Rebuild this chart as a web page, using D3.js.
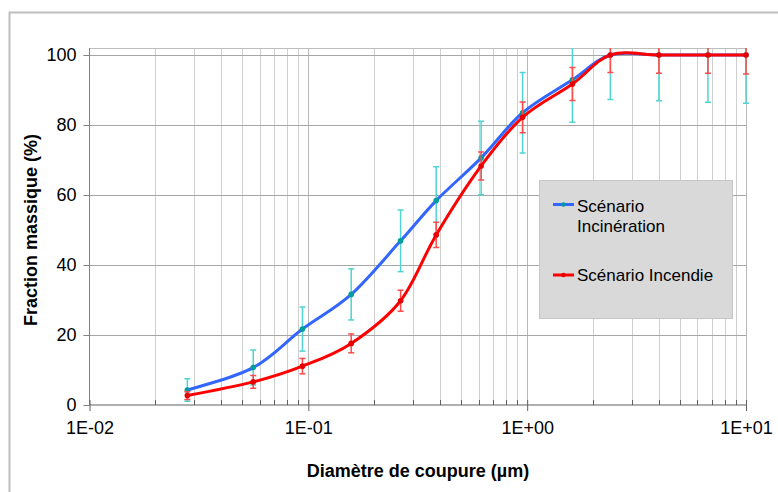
<!DOCTYPE html>
<html>
<head>
<meta charset="utf-8">
<script src="https://cdn.jsdelivr.net/npm/d3@7"></script>
<style>
  html, body { margin: 0; padding: 0; background: #ffffff; }
  svg { display: block; font-family: Arial, "Liberation Sans", sans-serif; }
</style>
</head>
<body>
<svg id="chart" width="778" height="492"></svg>
<script>
// Cut-off diameters of the impactor stages (µm)
const diameters = [0.028, 0.056, 0.094, 0.157, 0.264, 0.384, 0.616, 0.953, 1.61, 2.40, 4.00, 6.70, 10.0];

// Cumulative mass fraction (%) and its uncertainty, per scenario
const incineration    = [4.3, 10.7, 21.7, 31.6, 46.9, 58.4, 70.6, 83.5, 92.9, 100, 100, 100, 100];
const incinerationErr = [3.2, 5.0, 6.3, 7.3, 8.8, 9.7, 10.5, 11.5, 12.1, 12.7, 13.1, 13.5, 13.8];
const incendie        = [2.7, 6.6, 11.1, 17.6, 29.8, 48.6, 68.3, 82.2, 91.7, 100, 100, 100, 100];
const incendieErr     = [1.1, 1.8, 2.2, 2.7, 3.0, 3.6, 4.0, 4.4, 4.7, 5.0, 5.2, 5.2, 5.4];

const seriesNames = ["Scénario Incinération", "Scénario Incendie"];
const yTicks = [0, 20, 40, 60, 80, 100];
const xTicks = [0.01, 0.1, 1, 10];
const xTickLabels = ["1E-02", "1E-01", "1E+00", "1E+01"];

const svg = d3.select("#chart");

const plot = { left: 89.5, right: 746, top: 48, bottom: 405 };
const x = d3.scaleLog().domain([0.01, 10]).range([plot.left, plot.right]);
const y = d3.scaleLinear().domain([0, 100]).range([405, 55]);

// Outer chart frame
svg.append("rect")
  .attr("x", 9.5).attr("y", 12.5).attr("width", 800).attr("height", 520)
  .attr("fill", "none").attr("stroke", "#bdbdbd").attr("stroke-width", 2);

// Clip region for the series: cut at the top of the plot area only
svg.append("clipPath").attr("id", "plotClip")
  .append("rect")
  .attr("x", plot.left - 10).attr("y", plot.top)
  .attr("width", plot.right - plot.left + 20).attr("height", plot.bottom - plot.top + 10);

// Vertical grid: every 1..9 × decade
const minorX = [];
for (let e = -2; e <= 0; e++) {
  for (let m = 1; m <= 9; m++) minorX.push(m * Math.pow(10, e));
}
minorX.push(10);
svg.append("g").selectAll("line").data(minorX.filter(v => v > 0.01)).join("line")
  .attr("x1", d => Math.round(x(d)) + 0.5).attr("x2", d => Math.round(x(d)) + 0.5)
  .attr("y1", plot.top).attr("y2", plot.bottom)
  .attr("stroke", d => xTicks.includes(+d.toPrecision(3)) ? "#b8b8b8" : "#cfcfcf")
  .attr("stroke-width", 1);

// Horizontal grid
svg.append("g").selectAll("line").data(yTicks.filter(v => v > 0)).join("line")
  .attr("x1", plot.left).attr("x2", plot.right)
  .attr("y1", d => Math.round(y(d)) + 0.5).attr("y2", d => Math.round(y(d)) + 0.5)
  .attr("stroke", "#a6a6a6").attr("stroke-width", 1);

// Plot-area top edge
svg.append("line")
  .attr("x1", plot.left).attr("x2", plot.right)
  .attr("y1", plot.top + 0.5).attr("y2", plot.top + 0.5)
  .attr("stroke", "#bdbdbd").attr("stroke-width", 1);

// Y axis
const yAxis = d3.axisLeft(y).tickValues(yTicks).tickSize(6).tickPadding(6).tickFormat(d3.format("d"));
const gy = svg.append("g").attr("transform", `translate(${plot.left},0)`).call(yAxis);
gy.select(".domain").attr("stroke", "#808080").attr("d", `M0,${plot.top}V${plot.bottom}`);
gy.selectAll(".tick line").attr("stroke", "#808080");
gy.selectAll(".tick text").attr("font-size", 18).attr("fill", "#000")
  .attr("font-family", "Arial, 'Liberation Sans', sans-serif").attr("x", -13);

// X axis: decade ticks with labels, minor ticks inside
const xAxis = d3.axisBottom(x).tickValues(xTicks).tickSize(6).tickPadding(10)
  .tickFormat((d, i) => xTickLabels[i]);
const gx = svg.append("g").attr("transform", `translate(0,${plot.bottom})`).call(xAxis);
gx.select(".domain").attr("stroke", "#606060").attr("d", `M${plot.left},0H${plot.right}`);
gx.selectAll(".tick line").attr("stroke", "#606060").attr("y1", -5);
gx.selectAll(".tick text").attr("font-size", 18).attr("fill", "#000")
  .attr("font-family", "Arial, 'Liberation Sans', sans-serif");
gx.append("g").selectAll("line").data(minorX.filter(v => !xTicks.includes(+v.toPrecision(3)))).join("line")
  .attr("x1", d => Math.round(x(d)) + 0.5).attr("x2", d => Math.round(x(d)) + 0.5)
  .attr("y1", -5).attr("y2", 0).attr("stroke", "#606060");

// Axis titles
svg.append("text")
  .attr("x", 418).attr("y", 477).attr("text-anchor", "middle")
  .attr("font-size", 18).attr("font-weight", "bold").attr("fill", "#000")
  .text("Diamètre de coupure (µm)");
svg.append("text")
  .attr("transform", "translate(37,230) rotate(-90)").attr("text-anchor", "middle")
  .attr("font-size", 18).attr("font-weight", "bold").attr("fill", "#000")
  .text("Fraction massique (%)");

// Series
const series = [
  { name: seriesNames[0], values: incineration, err: incinerationErr,
    line: "#3366ff", marker: "#009c9c", bar: "#4fd3d3" },
  { name: seriesNames[1], values: incendie, err: incendieErr,
    line: "#ff0000", marker: "#e60000", bar: "#ff4a4a" }
];

const lineGen = d3.line()
  .x(d => x(d.d)).y(d => y(d.v))
  .curve(d3.curveCardinal.tension(0));

const data = series.map(s => ({
  ...s,
  points: diameters.map((d, i) => ({ d, v: s.values[i], e: s.err[i] }))
}));

const layer = svg.append("g").attr("clip-path", "url(#plotClip)");
const cap = 3;

data.forEach(s => {
  const g = layer.append("g");
  g.append("path")
    .attr("d", lineGen(s.points))
    .attr("fill", "none").attr("stroke", s.line).attr("stroke-width", 3)
    .attr("stroke-linejoin", "round");

  const eb = g.append("g").attr("stroke", s.bar).attr("stroke-width", 1.5);
  s.points.forEach(p => {
    const cx = x(p.d), y1 = y(p.v + p.e), y2 = y(p.v - p.e);
    eb.append("line").attr("x1", cx).attr("x2", cx).attr("y1", y1).attr("y2", y2);
    eb.append("line").attr("x1", cx - cap).attr("x2", cx + cap).attr("y1", y1).attr("y2", y1);
    eb.append("line").attr("x1", cx - cap).attr("x2", cx + cap).attr("y1", y2).attr("y2", y2);
  });

  g.append("g").selectAll("circle").data(s.points).join("circle")
    .attr("cx", p => x(p.d)).attr("cy", p => y(p.v)).attr("r", 2.8)
    .attr("fill", s.marker);
});

// Legend
const legend = svg.append("g");
legend.append("rect")
  .attr("x", 539.5).attr("y", 180.5).attr("width", 193).attr("height", 138)
  .attr("fill", "#d9d9d9").attr("stroke", "#c6c6c6").attr("stroke-width", 1);

const legendRows = [
  { s: data[0], y: 204.5, lines: ["Scénario", "Incinération"], base: 211.5 },
  { s: data[1], y: 275, lines: ["Scénario Incendie"], base: 281 }
];
legendRows.forEach(r => {
  legend.append("line")
    .attr("x1", 553).attr("x2", 574).attr("y1", r.y).attr("y2", r.y)
    .attr("stroke", r.s.line).attr("stroke-width", 3);
  legend.append("circle").attr("cx", 563.5).attr("cy", r.y).attr("r", 2.3).attr("fill", r.s.marker);
  const t = legend.append("text")
    .attr("x", 577).attr("y", r.base)
    .attr("font-size", 17).attr("fill", "#000");
  r.lines.forEach((ln, i) => {
    t.append("tspan").attr("x", 577).attr("dy", i === 0 ? 0 : 20).text(ln);
  });
});
</script>
</body>
</html>
